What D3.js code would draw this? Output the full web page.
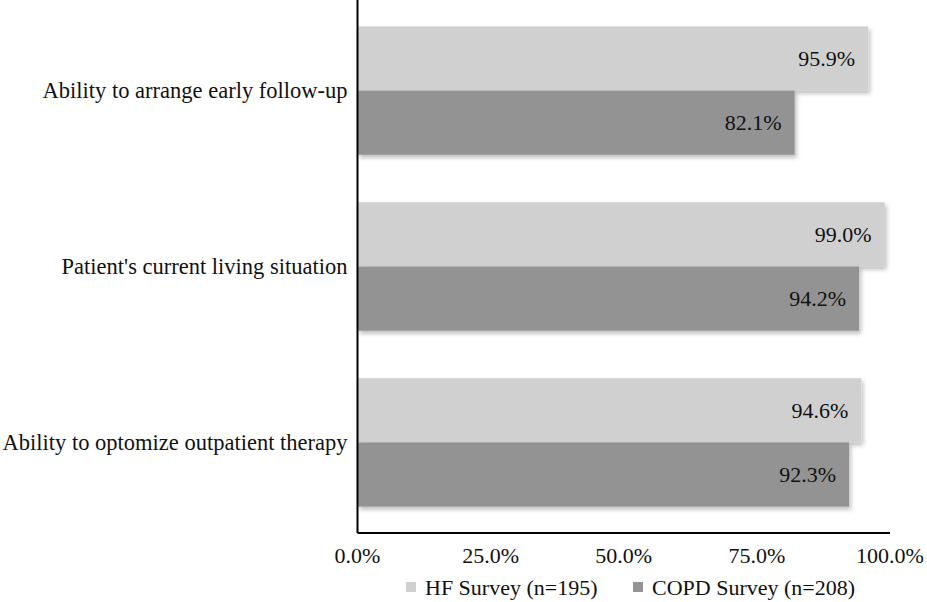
<!DOCTYPE html>
<html>
<head>
<meta charset="utf-8">
<script src="https://d3js.org/d3.v7.min.js"></script>
<style>
  body { margin: 0; background: #fff; }
  text { font-family: "Liberation Serif", "Times New Roman", serif; fill: #111; }
</style>
</head>
<body>
<svg width="927" height="602"></svg>
<script>
  // data
  const categories = [
    'Ability to arrange early follow-up',
    "Patient's current living situation",
    'Ability to optomize outpatient therapy'
  ];
  const seriesNames = ['HF Survey (n=195)', 'COPD Survey (n=208)'];
  const hfValues = [95.9, 99.0, 94.6];
  const copdValues = [82.1, 94.2, 92.3];
  const xTicks = [0, 25, 50, 75, 100];
  const colors = ['#d0d0d0', '#939393'];

  const svg = d3.select('svg');
  const plotLeft = 357.5, plotRight = 890, plotTop = 0, plotBottom = 533;

  const x = d3.scaleLinear().domain([0, 100]).range([plotLeft, plotRight]);
  const y = d3.scaleBand().domain(categories).range([plotTop, plotBottom]).paddingInner(0.27).paddingOuter(0.15);
  const sub = d3.scaleBand().domain(seriesNames).range([0, y.bandwidth()]);

  // soft drop shadow like the original
  const defs = svg.append('defs');
  const f = defs.append('filter').attr('id', 'shadow')
    .attr('x', '-5%').attr('y', '-10%').attr('width', '115%').attr('height', '130%');
  f.append('feDropShadow')
    .attr('dx', 2).attr('dy', 3).attr('stdDeviation', 2)
    .attr('flood-color', '#000').attr('flood-opacity', 0.25);

  const rows = categories.map((c, i) => ({cat: c, vals: [hfValues[i], copdValues[i]]}));

  // bars
  const g = svg.selectAll('g.cat')
    .data(rows)
    .join('g')
    .attr('class', 'cat')
    .attr('transform', d => `translate(0,${y(d.cat)})`);

  g.selectAll('rect')
    .data(d => d.vals.map((v, j) => ({v: v, s: seriesNames[j], j: j})))
    .join('rect')
    .attr('x', x(0))
    .attr('y', d => sub(d.s))
    .attr('width', d => x(d.v) - x(0))
    .attr('height', sub.bandwidth())
    .attr('fill', d => colors[d.j])
    .attr('filter', 'url(#shadow)');

  g.selectAll('text.val')
    .data(d => d.vals.map((v, j) => ({v: v, s: seriesNames[j]})))
    .join('text')
    .attr('class', 'val')
    .attr('x', d => x(d.v) - 13)
    .attr('y', d => sub(d.s) + sub.bandwidth() / 2)
    .attr('dy', '0.35em')
    .attr('text-anchor', 'end')
    .style('font-size', '22px')
    .text(d => d.v.toFixed(1) + '%');

  // y axis
  svg.append('line')
    .attr('x1', plotLeft).attr('x2', plotLeft)
    .attr('y1', plotTop).attr('y2', plotBottom)
    .attr('stroke', '#000').attr('stroke-width', 2);

  svg.selectAll('text.catlabel')
    .data(categories)
    .join('text')
    .attr('class', 'catlabel')
    .attr('x', plotLeft - 10)
    .attr('y', d => y(d) + y.bandwidth() / 2)
    .attr('dy', '0.35em')
    .attr('text-anchor', 'end')
    .style('font-size', '22.5px')
    .text(d => d);

  // x axis
  svg.append('line')
    .attr('x1', plotLeft).attr('x2', plotRight)
    .attr('y1', plotBottom).attr('y2', plotBottom)
    .attr('stroke', '#000').attr('stroke-width', 2);

  svg.selectAll('text.tick')
    .data(xTicks)
    .join('text')
    .attr('class', 'tick')
    .attr('x', d => x(d))
    .attr('y', 555)
    .attr('dy', '0.35em')
    .attr('text-anchor', 'middle')
    .style('font-size', '22px')
    .text(d => d.toFixed(1) + '%');

  // legend
  const legX = [406, 633];
  const leg = svg.selectAll('g.leg')
    .data(seriesNames)
    .join('g')
    .attr('class', 'leg')
    .attr('transform', (d, i) => `translate(${legX[i]},587)`);
  leg.append('rect')
    .attr('x', 0).attr('y', -5)
    .attr('width', 10).attr('height', 10)
    .attr('fill', (d, i) => colors[i]);
  leg.append('text')
    .attr('x', 19).attr('y', 0)
    .attr('dy', '0.35em')
    .style('font-size', '22px')
    .text(d => d);
</script>
</body>
</html>
